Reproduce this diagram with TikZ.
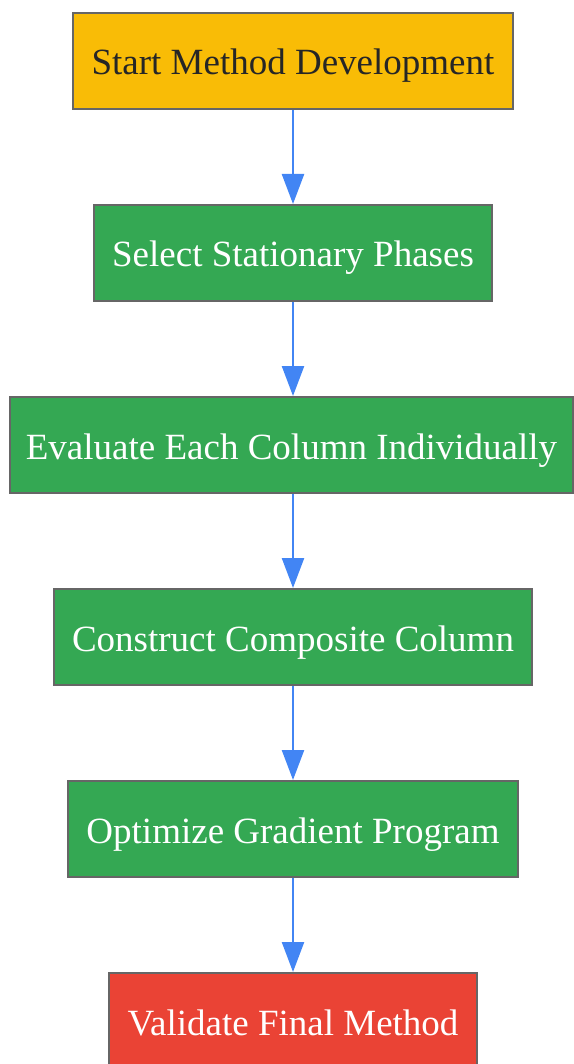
\documentclass[tikz,border=0pt]{standalone}
\usepackage{fontspec}
\setmainfont{Liberation Serif}
\usepackage{tikz}
\usetikzlibrary{arrows.meta}
\definecolor{stepOrange}{RGB}{249, 188, 6}
\definecolor{stepGreen}{RGB}{52, 168, 83}
\definecolor{stepRed}{RGB}{234, 67, 53}
\definecolor{arrowBlue}{RGB}{66, 133, 244}
\definecolor{borderGrey}{RGB}{102, 102, 102}

\begin{document}
\begin{tikzpicture}
  [
    x=1pt, y=1pt,
    Box/.style={rectangle, draw=borderGrey, line width=2pt, minimum height=96pt, inner xsep=18.5pt,
      text height=30pt, text depth=2pt, font=\fontsize{37}{44}\selectfont},
    Start/.style={Box, fill=stepOrange, text=black!85},
    Green/.style={Box, fill=stepGreen, text=white},
    Red/.style={Box, fill=stepRed, text=white},
    Flow/.style={draw=arrowBlue, line width=2.4pt, -{Triangle[width=22pt, length=30pt]}}
  ]
  \useasboundingbox (0, 0) rectangle (573, -1064);
  % Nodes
  \node[Start] (s1) at(293, -61) {Start Method Development};
  \node[Green] (s2) at(293, -253) {Select Stationary Phases};
  \node[Green, inner xsep=16pt] (s3) at(291.5, -445) {Evaluate Each Column Individually};
  \node[Green] (s4) at(293, -637) {Construct Composite Column};
  \node[Green] (s5) at(293, -829) {Optimize Gradient Program};
  \node[Red] (s6) at(293, -1021) {Validate Final Method};

% Lines
  \path [Flow] (s1.south) -- (s1.south |- s2.north);
  \path [Flow] (s2.south) -- (s2.south |- s3.north);
  \path [Flow] (s2.south |- s3.south) -- (s4.north);
  \path [Flow] (s4.south) -- (s5.north);
  \path [Flow] (s5.south) -- (s6.north);

\end{tikzpicture}
\end{document}
